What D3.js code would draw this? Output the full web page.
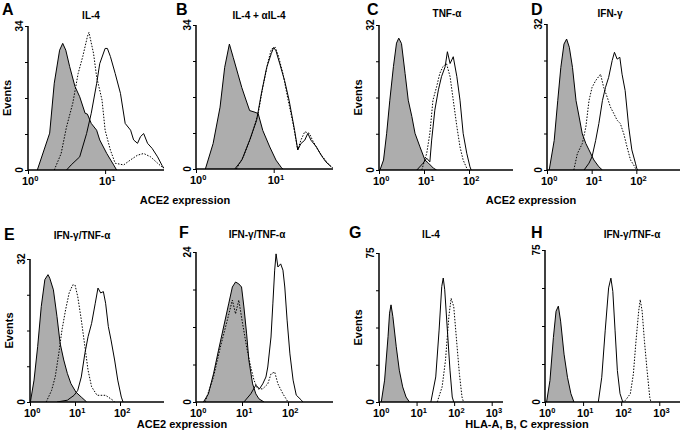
<!DOCTYPE html>
<html><head><meta charset="utf-8">
<script src="https://cdn.jsdelivr.net/npm/d3@7"></script>
<style>
html,body{margin:0;padding:0;background:#fff;}
svg{display:block;}
text{font-family:"Liberation Sans",Arial,Helvetica,sans-serif;font-weight:bold;fill:#000;}
</style></head>
<body>
<svg id="chart" width="680" height="440"></svg>
<script>
// ---------- DATA: [fluorescence intensity, events] ----------
const A_iso = [[1.32,0],[1.91,8.7],[2.19,20.5],[2.57,28.3],[2.82,29.9],[3.09,28.3],[3.47,24.4],[4.07,19.7],[4.68,17.3],[5.50,13.4],[5.89,13.2],[6.61,11],[7.76,9.4],[8.51,7.1],[10.5,3.9],[12.9,1.2],[14.1,0]];
const A_dot = [[2.19,0],[2.69,3.9],[3.16,10.2],[3.80,15.7],[4.47,22.8],[5.13,26.8],[5.89,31.5],[6.17,32.5],[7.08,27.5],[7.76,22],[9.12,16.5],[10,9.4],[11.7,4.7],[13.5,1.6],[17.4,1.2],[21.4,2.4],[26.3,3.5],[31.6,3.9],[38.9,3.1],[47.9,1.6],[57.5,0.4]];
const A_sol = [[3.16,0],[3.63,1.2],[4.68,3.1],[5.75,8.6],[6.61,13.4],[7.76,20.4],[8.51,25.1],[10,28.7],[10.7,28.7],[11.7,26.8],[13.5,22.8],[15.8,18.1],[18.2,11],[21.4,9.4],[23.4,7.1],[26.3,6.3],[28.8,7.9],[31.6,8.6],[35.5,6.3],[40.7,5.1],[47.9,3.1],[55,1.0],[58,0.4]];

const B_iso = [[1.32,0],[1.66,6],[2.04,14.6],[2.34,24],[2.69,29.5],[3.02,26.3],[3.47,22.4],[3.89,19.2],[4.27,17],[4.90,13.8],[5.75,13.4],[6.31,13.1],[7.24,9.1],[8.91,5.2],[10.7,2.1],[12.6,0.3],[13.2,0]];
const B_dot = [[3.31,0],[4.07,2.9],[5.13,7.6],[6.31,13.1],[7.24,19.3],[8.51,25.5],[9.33,28.3],[10.5,28.7],[11.5,26.7],[13.2,22.4],[15.1,16.9],[17.8,10.6],[20.4,4.5],[22.4,6.8],[25.1,8.8],[28.8,8.4],[31.6,6.8],[37.2,4.5],[42.7,2.9],[50.1,1.3],[57.5,0.3]];
const B_sol = [[3.16,0],[3.89,2.1],[4.90,6.8],[6.03,11.5],[6.92,17.7],[8.13,24],[9.33,27.3],[10,28.7],[10.7,27.9],[12.0,24.8],[13.8,20.9],[15.8,16.2],[18.6,9.1],[20.4,4.5],[22.4,6.0],[25.1,6.8],[27.5,8.4],[30.2,6.8],[35.5,5.2],[40.7,3.3],[46.8,1.7],[55,0.5]];

const C_iso = [[1.05,0],[1.26,2.2],[1.48,8.1],[1.74,15.4],[2.09,22.8],[2.45,28],[2.75,29.1],[3.16,27.9],[3.80,21.3],[4.47,15.4],[5.37,11.8],[6.31,8.1],[8.13,5.1],[10.5,2.2],[12.6,1.5],[16.2,0.4],[19.1,0]];
const C_dot = [[8.91,0],[11.5,3.7],[13.5,8.1],[15.8,15.4],[19.1,18.4],[22.4,21.3],[26.3,22.8],[31.6,23.5],[38.0,20.6],[44.7,15.4],[53.7,9.6],[63.1,5.1],[74.1,2.2],[89.1,0.4],[95,0]];
const C_sol = [[6.92,0],[9.55,1.5],[11.5,2.6],[13.5,1.8],[14.8,6.6],[17.4,13.2],[20.9,17.7],[24.5,20.6],[29.5,22.8],[33.1,26.1],[38.0,23.5],[44.7,25],[53.7,20.6],[63.1,15.4],[74.1,8.1],[89.1,3.7],[105,0.7],[112,0]];

const D_iso = [[1.12,0],[1.45,6.5],[1.74,15.2],[2.04,22.5],[2.40,27.6],[2.75,28.7],[3.16,26.9],[3.72,22.5],[4.47,15.2],[5.25,11.6],[6.17,7.9],[7.41,5.8],[8.71,4.4],[11.2,2.2],[14.5,0.7],[17.4,0]];
const D_dot = [[3.98,0],[4.79,3.6],[6.17,5.8],[7.41,9.4],[8.71,15.2],[10.2,18.1],[12.3,19.6],[15.8,21.0],[18.6,18.1],[22.4,15.9],[26.3,13.8],[31.6,12.3],[37.2,10.9],[43.7,10.2],[52.5,7.9],[61.7,5.1],[74.1,2.2],[87.1,1.1],[95.5,0.4],[100,0]];
const D_sol = [[6.76,0],[8.71,1.5],[10.2,2.9],[12.3,6.5],[14.5,10.2],[17.4,15.2],[20.4,18.1],[24.0,20.3],[28.8,24],[32.4,25.8],[37.2,24.3],[42.7,24.7],[47.9,21],[56.2,17.4],[67.6,9.4],[79.4,4.4],[95.5,1.5],[102,0.4],[107,0]];

const E_iso = [[1.02,0],[1.23,4.9],[1.48,12.4],[1.78,21.4],[2.14,27.4],[2.51,28.5],[2.75,27.7],[3.31,25.1],[3.98,19.1],[4.68,13.1],[5.62,9.4],[6.76,6.4],[8.13,4.1],[10.5,2.2],[13.8,1.1],[18.2,0]];
const E_dot = [[2.29,0],[3.02,2.6],[3.63,5.6],[4.37,10.9],[5.13,16.1],[6.17,20.6],[7.41,24.4],[8.91,26.2],[10,26.2],[11.5,23.6],[13.8,18.4],[16.6,12.4],[19.5,7.1],[23.4,3.4],[30.9,1.5],[47.9,1.5],[69.2,0.4],[75.9,0]];
const E_sol = [[3.98,0],[6.76,0.4],[9.55,1.5],[11.5,2.6],[13.8,5.6],[16.6,10.9],[19.5,14.6],[23.4,17.6],[28.2,22.1],[32.4,25.5],[37.2,24.4],[42.7,24.7],[47.9,22.1],[55.0,16.9],[63.1,13.9],[75.9,9.4],[89.1,4.9],[107,1.1],[117,0]];

const F_iso = [[1.45,0],[1.86,1.3],[2.40,4.5],[3.09,8.3],[3.98,12],[5.13,15.7],[6.17,18.4],[7.24,19.2],[8.51,18.9],[9.77,18.4],[11.0,15.2],[12.6,10.9],[14.1,6.7],[17.0,2.9],[20.0,1.3],[23.4,0.5],[30.2,0]];
const F_dot = [[1.58,0],[2.40,4.0],[3.39,8.8],[4.79,13.1],[6.17,16.3],[7.24,14.1],[8.51,16.3],[10,13.1],[12.6,8.8],[15.5,5.6],[18.2,3.5],[21.9,2.1],[28.2,2.1],[36.3,2.9],[42.7,4.5],[51.3,4.8],[60.3,2.9],[77.6,1.3],[100,0]];
const F_sol = [[11.0,0],[15.5,1.3],[20.0,2.7],[24.0,2.1],[28.2,2.9],[33.1,4.0],[36.3,5.6],[42.7,10.4],[46.8,15.7],[51.3,21.1],[55.0,23.7],[60.3,21.6],[69.2,22.1],[77.6,21.1],[85.1,18.4],[95.5,13.1],[110,7.7],[129,3.5],[151,1.1],[195,0.3],[210,0]];

const G_iso = [[1.15,0],[1.41,11],[1.74,32.9],[1.91,44.7],[2.09,48.9],[2.34,43],[2.88,27.8],[3.47,16],[4.27,7.6],[5.25,2.5],[6.46,0]];
const G_dot = [[35.5,0],[47.9,7.6],[58.9,21],[72.4,43],[83.2,52.2],[97.7,48],[120,27.8],[138,14.3],[162,2.5],[178,0]];
const G_sol = [[24.0,0],[32.4,12.6],[39.8,36.2],[46.8,58.1],[51.3,62.4],[56.2,56.5],[66.1,36.2],[77.6,16],[89.1,2.5],[97.7,0]];

const H_iso = [[1.10,0],[1.35,10.6],[1.66,31.8],[1.95,44.8],[2.24,47.3],[2.57,39.9],[3.16,23.6],[3.89,12.2],[4.79,4.1],[5.75,0]];
const H_dot = [[105,0],[129,0.8],[174,4.1],[209,13.9],[245,30.2],[288,44.8],[316,50.5],[355,44.8],[407,30.2],[479,15.5],[562,2.4],[603,0]];
const H_sol = [[25.1,0],[30.9,12.2],[38.0,35.1],[46.8,56.3],[53.7,61.1],[60.3,54.6],[69.2,35.1],[79.4,15.5],[93.3,4.1],[110,0]];

const panelLetters = ["A","B","C","D","E","F","G","H"];
const panelTitles = ["IL-4","IL-4 + \u03B1IL-4","TNF-\u03B1","IFN-\u03B3","IFN-\u03B3/TNF-\u03B1","IFN-\u03B3/TNF-\u03B1","IL-4","IFN-\u03B3/TNF-\u03B1"];
const yMaxima = [34,34,32,32,32,24,75,75];
const xMaxima = [58,58,950,950,950,950,2000,3500];
const isoSeries = [A_iso,B_iso,C_iso,D_iso,E_iso,F_iso,G_iso,H_iso];
const dotSeries = [A_dot,B_dot,C_dot,D_dot,E_dot,F_dot,G_dot,H_dot];
const solSeries = [A_sol,B_sol,C_sol,D_sol,E_sol,F_sol,G_sol,H_sol];
const yAxisTitle = "Events";
const xAxisTitles = ["ACE2 expression","ACE2 expression","ACE2 expression","HLA-A, B, C expression"];

// ---------- LAYOUT ----------
const layout = [
  {l:28, r:164, t:26, b:170, lx:2, ly:15, tx:91, ty:19, ev:true},
  {l:196,r:333, t:25, b:169, lx:176,ly:15, tx:259,ty:19, ev:false},
  {l:379,r:513, t:25, b:170, lx:367,ly:15, tx:447,ty:17, ev:true},
  {l:547,r:680, t:24, b:170, lx:531,ly:15, tx:610,ty:17, ev:false},
  {l:30, r:164, t:259,b:402, lx:4,  ly:240,tx:82, ty:239,ev:true},
  {l:196,r:333, t:252,b:402, lx:179,ly:238,tx:257,ty:238,ev:false},
  {l:379,r:503, t:253,b:402, lx:349,ly:238,tx:431,ty:238,ev:true},
  {l:545,r:680, t:250,b:402, lx:531,ly:238,tx:632,ty:238,ev:false}
];
const axisTitlePos = [{x:185,y:204},{x:531,y:204},{x:182,y:428},{x:527,y:428}];

const svg = d3.select("#chart");
const defs = svg.append("defs");
const GREY = "#adadad";

panelLetters.forEach((L,i)=>{
  const p = layout[i];
  const x = d3.scaleLog().domain([1,xMaxima[i]]).range([p.l,p.r]);
  const y = d3.scaleLinear().domain([0,yMaxima[i]]).range([p.b,p.t]);
  const g = svg.append("g");
  defs.append("clipPath").attr("id","clip"+L).append("rect")
    .attr("x",p.l).attr("y",p.t-5).attr("width",p.r-p.l).attr("height",p.b-p.t+5);
  const plot = g.append("g").attr("clip-path","url(#clip"+L+")");

  const area = d3.area().x(d=>x(d[0])).y0(y(0)).y1(d=>y(d[1]));
  const line = d3.line().x(d=>x(d[0])).y(d=>y(d[1]));

  plot.append("path").datum(isoSeries[i]).attr("d",area).attr("fill",GREY).attr("stroke","none");
  plot.append("path").datum(isoSeries[i]).attr("d",line).attr("fill","none").attr("stroke","#000").attr("stroke-width",1);
  plot.append("path").datum(dotSeries[i]).attr("d",line).attr("fill","none").attr("stroke","#000").attr("stroke-width",1).attr("stroke-dasharray","1.5,1.5");
  plot.append("path").datum(solSeries[i]).attr("d",line).attr("fill","none").attr("stroke","#000").attr("stroke-width",1);

  // x axis
  const exps = d3.range(0, Math.floor(Math.log10(xMaxima[i])+1e-9)+1);
  const majors = exps.map(e=>Math.pow(10,e));
  const minors = x.ticks().filter(v=>majors.indexOf(v)<0 && v<=xMaxima[i]);
  const xa = g.append("g").attr("transform",`translate(0,${p.b})`);
  xa.call(d3.axisBottom(x).tickValues(minors).tickSize(2.5).tickSizeOuter(0).tickFormat(""));
  xa.call(d3.axisBottom(x).tickValues(majors).tickSize(4).tickSizeOuter(0).tickFormat(""));
  xa.selectAll("path.domain").remove();
  xa.selectAll("line").attr("stroke","#000").attr("stroke-width",1);
  g.append("line").attr("x1",p.l).attr("x2",p.r).attr("y1",p.b).attr("y2",p.b).attr("stroke","#000").attr("stroke-width",1.5);
  majors.forEach((v,k)=>{
    const t = g.append("text").attr("x",x(v)-6).attr("y",p.b+15).attr("text-anchor","start").attr("font-size",11);
    t.append("tspan").text("10");
    t.append("tspan").attr("dy",-4.5).attr("font-size",7.5).text(String(exps[k]));
  });

  // y axis
  const ya = g.append("g").attr("transform",`translate(${p.l},0)`);
  ya.call(d3.axisLeft(y).tickValues(d3.range(0,5).map(k=>yMaxima[i]*k/4)).tickSize(3).tickSizeOuter(0).tickFormat(""));
  ya.selectAll("path.domain").remove();
  ya.selectAll("line").attr("stroke","#000").attr("stroke-width",1);
  g.append("line").attr("x1",p.l).attr("x2",p.l).attr("y1",p.t).attr("y2",p.b).attr("stroke","#000").attr("stroke-width",1.5);
  [0, yMaxima[i]].forEach(v=>{
    g.append("text").attr("transform",`translate(${p.l-5},${y(v)}) rotate(-90)`)
      .attr("text-anchor","middle").attr("font-size",10).text(String(v));
  });
  if (p.ev) {
    g.append("text").attr("transform",`translate(${p.l-17},${(p.t+p.b)/2}) rotate(-90)`)
      .attr("text-anchor","middle").attr("font-size",11).text(yAxisTitle);
  }

  g.append("text").attr("x",p.lx).attr("y",p.ly).attr("font-size",16).text(L);
  g.append("text").attr("x",p.tx).attr("y",p.ty).attr("text-anchor","middle").attr("font-size",10).text(panelTitles[i]);
});

xAxisTitles.forEach((t,k)=>{
  svg.append("text").attr("x",axisTitlePos[k].x).attr("y",axisTitlePos[k].y)
    .attr("text-anchor","middle").attr("font-size",11).text(t);
});
</script>
</body></html>
